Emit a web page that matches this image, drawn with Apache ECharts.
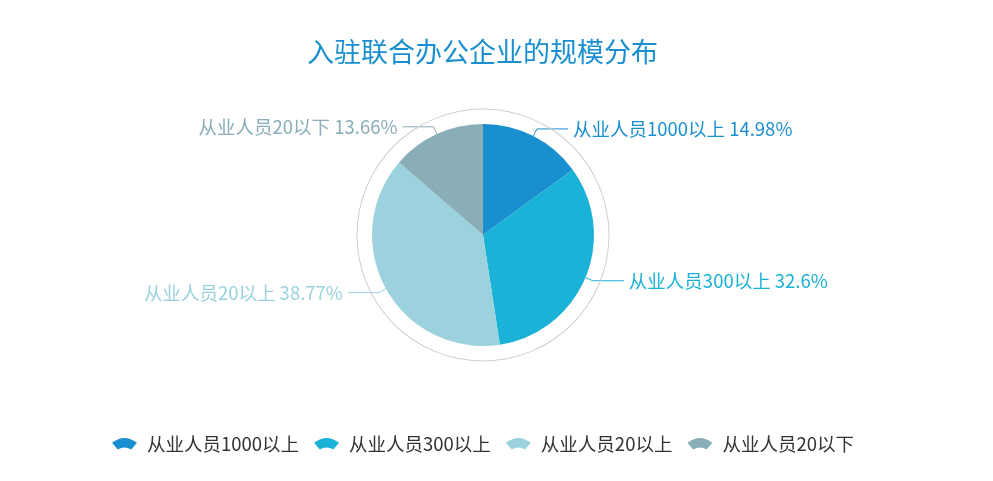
<!DOCTYPE html>
<html>
<head>
<meta charset="utf-8">
<script src="https://cdn.jsdelivr.net/npm/echarts@6/dist/echarts.min.js"></script>
<style>
    html, body { margin: 0; padding: 0; background: #fff; }
    #chart { width: 993px; height: 481px; }
</style>
</head>
<body>
<div id="chart"></div>
<script>
"use strict";

var categories = ['从业人员1000以上', '从业人员300以上', '从业人员20以上', '从业人员20以下'];
var percents   = [14.98, 32.6, 38.77, 13.66];
var colors     = ['#1a8fcf', '#1bb2d8', '#9bd2de', '#89aeb8'];

// fan shaped legend marker
var fanIcon = 'path://M0,7 Q13,-3 26,7 L20,14 Q13,10 6,14 Z';

var chart = echarts.init(document.getElementById('chart'));

var pieData = categories.map(function (name, i) {
    return {
        name: name,
        value: percents[i],
        itemStyle: { color: colors[i] },
        label: { color: colors[i] },
        labelLine: { lineStyle: { color: colors[i] } }
    };
});

var option = {
    title: {
        text: '入驻联合办公企业的规模分布',
        left: 302,
        top: 33,
        textStyle: {
            color: '#1a8fcf',
            fontSize: 27,
            fontWeight: 'normal',
            fontFamily: 'Noto Sans CJK SC'
        }
    },
    legend: {
        bottom: 23,
        left: 107,
        icon: fanIcon,
        itemWidth: 25,
        itemHeight: 14,
        itemGap: 15,
        data: categories,
        textStyle: {
            color: '#333',
            fontSize: 18.5,
            padding: [0, 0, 0, 5],
            fontFamily: 'Noto Sans CJK SC'
        }
    },
    series: [
        {
            // thin outer ring
            type: 'pie',
            center: ['483', '235'],
            radius: [125.5, 126.5],
            silent: true,
            label: { show: false },
            labelLine: { show: false },
            itemStyle: { color: '#cfcfcf' },
            data: [{ value: 1, name: 'ring' }],
            legendHoverLink: false
        },
        {
            type: 'pie',
            center: ['483', '235'],
            radius: [0, 111],
            startAngle: 90,
            label: {
                formatter: '{b} {c}%',
                fontSize: 18.5,
                fontFamily: 'Noto Sans CJK SC'
            },
            labelLine: {
                length: 8,
                length2: 31
            },
            data: pieData
        }
    ]
};

chart.setOption(option);
</script>
</body>
</html>
